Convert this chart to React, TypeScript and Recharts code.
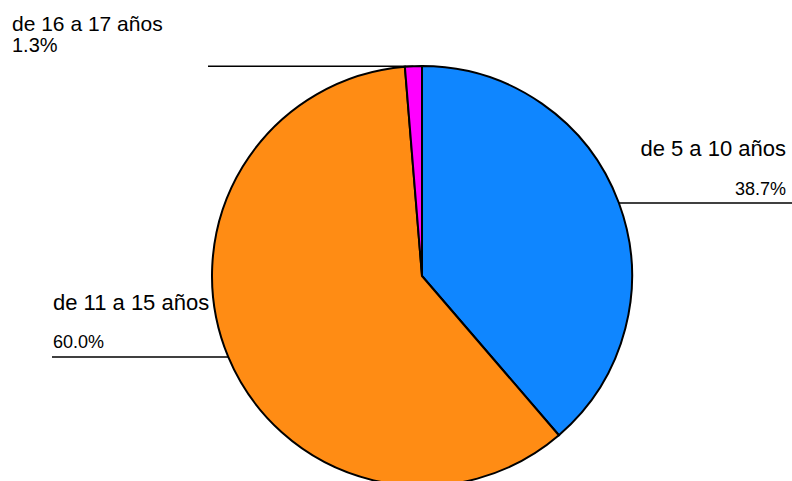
import React from 'react';
import { PieChart, Pie, Cell } from 'recharts';

const categories = ['de 5 a 10 años', 'de 11 a 15 años', 'de 16 a 17 años'];
const values = [38.7, 60.0, 1.3];
const colors = ['#0F86FF', '#FF8C14', '#FF00FF'];

const data = categories.map((name, i) => ({ name, value: values[i] }));

const W = 792;
const H = 481;

// label layout per slice (side, line end x, text offsets)
const layouts = [
  { side: 'right', lineEnd: W, textX: W - 6, nameDy: -47, pctDy: -8, nameSize: 22, pctSize: 18 },
  { side: 'left', lineEnd: 52, textX: 53, nameDy: -47, pctDy: -9, nameSize: 22, pctSize: 18 },
  { side: 'left', lineEnd: 208, textX: 12, nameDy: -35, pctDy: -14, nameSize: 21, pctSize: 20 },
];

const RAD = Math.PI / 180;

const renderLabel = (props: any) => {
  const { cx, cy, midAngle, outerRadius, index, percent, name } = props;
  const px = cx + outerRadius * Math.cos(-midAngle * RAD);
  const py = cy + outerRadius * Math.sin(-midAngle * RAD);
  const l = layouts[index];
  const anchor = l.side === 'right' ? 'end' : 'start';
  return (
    <g key={`lbl-${index}`}>
      <line x1={px} y1={py} x2={l.lineEnd} y2={py} stroke="#000" strokeWidth={1.5} />
      <text x={l.textX} y={py + l.nameDy} textAnchor={anchor} fontSize={l.nameSize} fill="#000"
        fontFamily="'Liberation Sans', Arial, sans-serif">{name}</text>
      <text x={l.textX} y={py + l.pctDy} textAnchor={anchor} fontSize={l.pctSize} fill="#000"
        fontFamily="'Liberation Sans', Arial, sans-serif">{(percent * 100).toFixed(1) + '%'}</text>
    </g>
  );
};

export default function App() {
  return (
    <div style={{ position: 'absolute', left: 0, top: 0, width: W, height: H, background: '#fff' }}>
      <PieChart width={W} height={H} margin={{ top: 0, right: 0, bottom: 0, left: 0 }}>
        <Pie
          data={data}
          dataKey="value"
          nameKey="name"
          cx={422}
          cy={276}
          outerRadius={210}
          startAngle={90}
          endAngle={-270}
          stroke="#000"
          strokeWidth={2}
          label={renderLabel}
          labelLine={false}
          isAnimationActive={false}
        >
          {data.map((d, i) => (
            <Cell key={d.name} fill={colors[i]} />
          ))}
        </Pie>
      </PieChart>
    </div>
  );
}
